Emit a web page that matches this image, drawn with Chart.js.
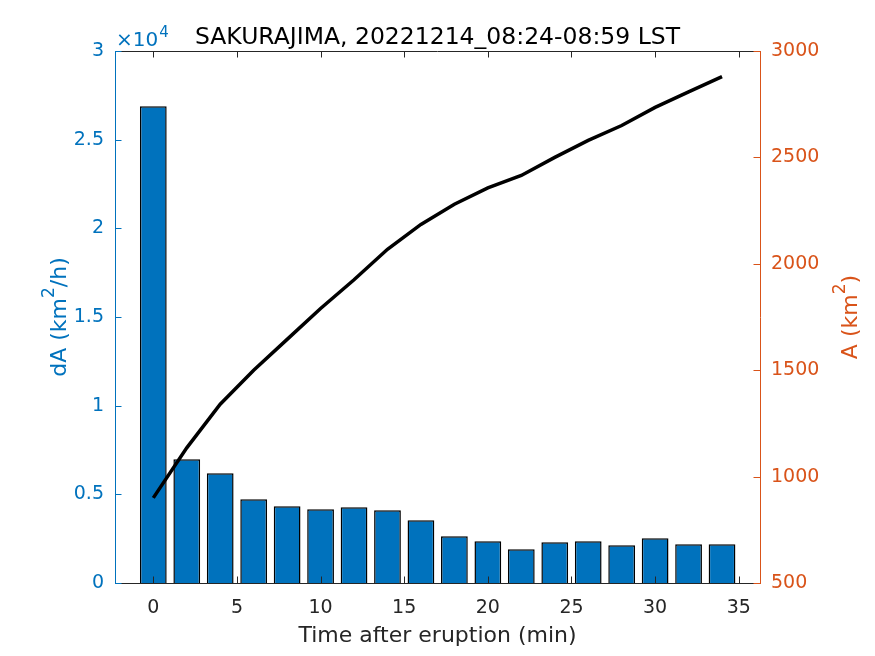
<!DOCTYPE html>
<html lang="ja">
<head>
  <meta charset="UTF-8">
  <title>SAKURAJIMA 20221214</title>
  <script src="https://cdn.jsdelivr.net/npm/chart.js"></script>
  <style>
    body { margin: 0; background: #fff; }
    #chart { display: block; }
  </style>
</head>
<body>
  <canvas id="chart" width="875" height="656"></canvas>
  <script>
    // time after eruption (min)
    const times = [0, 2, 4, 6, 8, 10, 12, 14, 16, 18, 20, 22, 24, 26, 28, 30, 32, 34];
    // dA (km^2/h)
    const dA = [26880, 6980, 6190, 4720, 4330, 4160, 4270, 4100, 3540, 2640,
                2350, 1900, 2300, 2350, 2130, 2520, 2180, 2180];
    // A (km^2)
    const area = [900, 1135, 1340, 1500, 1645, 1790, 1925, 2068, 2185, 2280,
                  2357, 2415, 2500, 2580, 2650, 2735, 2808, 2880];

    const xTicks = [0, 5, 10, 15, 20, 25, 30, 35];
    const leftTicks = [0, 5000, 10000, 15000, 20000, 25000, 30000];
    const rightTicks = [500, 1000, 1500, 2000, 2500, 3000];

    const BLUE = '#0072BD';
    const ORANGE = '#D95319';
    const DARK = '#262626';
    const FONT = "'DejaVu Sans', sans-serif";

    // text with superscript pieces, centred on (x, y)
    function drawRich(ctx, parts, x, y, size, color, angle) {
      ctx.save();
      ctx.translate(x, y);
      ctx.rotate(angle || 0);
      ctx.fillStyle = color;
      ctx.textBaseline = 'alphabetic';
      ctx.textAlign = 'left';
      let total = 0;
      parts.forEach(p => {
        ctx.font = (p.sup ? size * 0.78 : size) + 'px ' + FONT;
        p.w = ctx.measureText(p.t).width;
        total += p.w;
      });
      let cx = -total / 2;
      parts.forEach(p => {
        ctx.font = (p.sup ? size * 0.78 : size) + 'px ' + FONT;
        ctx.fillText(p.t, cx, size * 0.36 - (p.sup ? size * 0.52 : 0));
        cx += p.w;
      });
      ctx.restore();
    }

    const decorations = {
      id: 'decorations',
      afterDraw(chart) {
        const ctx = chart.ctx;
        const a = chart.chartArea;
        const sx = chart.scales.x, sy = chart.scales.y, sy1 = chart.scales.y1;
        const len = 6.5;
        ctx.save();
        ctx.lineWidth = 1;
        // top box line
        ctx.strokeStyle = DARK;
        ctx.beginPath();
        ctx.moveTo(a.left, a.top + 0.5);
        ctx.lineTo(a.right, a.top + 0.5);
        ctx.stroke();
        // inward x ticks, bottom and top
        xTicks.forEach(v => {
          const px = Math.round(sx.getPixelForValue(v)) + 0.5;
          ctx.beginPath();
          ctx.moveTo(px, a.bottom);
          ctx.lineTo(px, a.bottom - len);
          ctx.moveTo(px, a.top);
          ctx.lineTo(px, a.top + len);
          ctx.stroke();
        });
        ctx.strokeStyle = BLUE;
        leftTicks.forEach(v => {
          const py = Math.round(sy.getPixelForValue(v)) + 0.5;
          ctx.beginPath();
          ctx.moveTo(a.left, py);
          ctx.lineTo(a.left + len, py);
          ctx.stroke();
        });
        ctx.strokeStyle = ORANGE;
        rightTicks.forEach(v => {
          const py = Math.round(sy1.getPixelForValue(v)) + 0.5;
          ctx.beginPath();
          ctx.moveTo(a.right, py);
          ctx.lineTo(a.right - len, py);
          ctx.stroke();
        });
        ctx.restore();

        const midX = (a.left + a.right) / 2;
        const midY = (a.top + a.bottom) / 2;
        // title
        drawRich(ctx, [{ t: 'SAKURAJIMA, 20221214_08:24-08:59 LST' }], midX, 36, 23.5, '#000');
        // x axis title
        drawRich(ctx, [{ t: 'Time after eruption (min)' }], midX, 634, 22, DARK);
        // left axis title
        drawRich(ctx, [{ t: 'dA (km' }, { t: '2', sup: true }, { t: '/h)' }],
          58, midY, 22, BLUE, -Math.PI / 2);
        // right axis title
        drawRich(ctx, [{ t: 'A (km' }, { t: '2', sup: true }, { t: ')' }],
          849, midY, 22, ORANGE, -Math.PI / 2);
        // exponent label
        ctx.save();
        ctx.fillStyle = BLUE;
        ctx.textBaseline = 'alphabetic';
        ctx.font = '20px ' + FONT;
        ctx.fillText('\u00d710', a.left + 1, 46);
        const w = ctx.measureText('\u00d710').width;
        ctx.font = '15px ' + FONT;
        ctx.fillText('4', a.left + 1 + w + 1, 37);
        ctx.restore();
      }
    };

    new Chart(document.getElementById('chart'), {
      data: {
        datasets: [
          {
            type: 'line',
            data: times.map((t, i) => ({ x: t, y: area[i] })),
            yAxisID: 'y1',
            borderColor: '#000',
            borderWidth: 3.5,
            pointRadius: 0,
            tension: 0,
            order: 0
          },
          {
            type: 'bar',
            data: times.map((t, i) => ({ x: t, y: dA[i] })),
            yAxisID: 'y',
            backgroundColor: BLUE,
            borderColor: '#000',
            borderWidth: 1.5,
            barPercentage: 0.8,
            categoryPercentage: 1.0,
            order: 1
          }
        ]
      },
      options: {
        responsive: false,
        animation: false,
        layout: { padding: { top: 51, left: 0, right: 0, bottom: 0 } },
        plugins: {
          legend: { display: false },
          tooltip: { enabled: false }
        },
        scales: {
          x: {
            type: 'linear',
            min: -2.29,
            max: 36.27,
            offset: false,
            grid: { display: false },
            border: { color: DARK, width: 1 },
            ticks: {
              stepSize: 5,
              includeBounds: false,
              color: DARK,
              padding: 6,
              maxRotation: 0,
              font: { family: FONT, size: 19 }
            },
            afterFit: s => { s.height = 73; }
          },
          y: {
            position: 'left',
            min: 0,
            max: 30000,
            grid: { display: false },
            border: { color: BLUE, width: 1 },
            ticks: {
              stepSize: 5000,
              color: BLUE,
              padding: 3,
              font: { family: FONT, size: 19 },
              callback: v => String(v / 10000)
            },
            afterFit: s => { s.width = 115; }
          },
          y1: {
            position: 'right',
            min: 500,
            max: 3000,
            grid: { display: false },
            border: { color: ORANGE, width: 1 },
            ticks: {
              stepSize: 500,
              color: ORANGE,
              padding: 3,
              font: { family: FONT, size: 19 },
              callback: v => String(v)
            },
            afterFit: s => { s.width = 115; }
          }
        }
      },
      plugins: [decorations]
    });
  </script>
</body>
</html>
